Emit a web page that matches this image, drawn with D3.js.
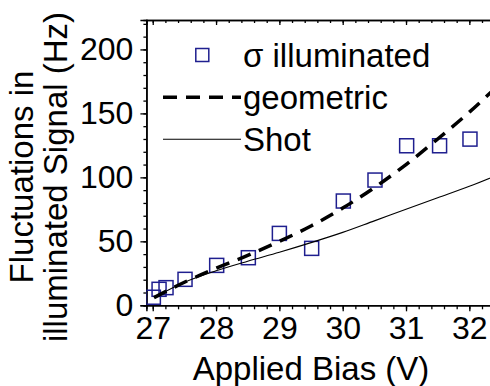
<!DOCTYPE html>
<html>
<head>
<meta charset="utf-8">
<script src="https://cdn.jsdelivr.net/npm/d3@7"></script>
<style>
body { margin: 0; background: #fff; }
text { font-family: "Liberation Sans", Arial, sans-serif; fill: #000; }
</style>
</head>
<body>
<svg id="chart" width="490" height="386"></svg>
<script>
// measured points (sigma of illuminated signal)
var biasPoints = [27.01, 27.1, 27.21, 27.51, 28.01, 28.51, 29.0, 29.51, 30.01, 30.51, 31.01, 31.53, 32.01];
var sigmaIlluminated = [6.3, 12.5, 13.8, 20.3, 31.2, 37.2, 56.2, 44.5, 81.5, 97.9, 124.7, 124.7, 129.9];

// model curves
var curveBias = [27.02, 27.5, 28, 28.5, 29, 29.5, 30, 30.5, 31, 31.5, 32, 32.5];
var geometricFit = [6, 18, 29, 39, 50, 62, 76, 92, 110, 130, 151, 174];
var shotFit = [6, 18, 27, 34.5, 41.5, 49, 57, 66, 75, 84, 93, 103];

var xTicks = [27, 28, 29, 30, 31, 32];
var yTicks = [0, 50, 100, 150, 200];
var legendLabels = ["\u03c3 illuminated", "geometric", "Shot"];

var svg = d3.select('#chart');
var navy = '#1f1f8f';

var x = d3.scaleLinear().domain([26.9, 32.5]).range([146.4, 501]);
var y = d3.scaleLinear().domain([0, 223]).range([305.3, 20]);

var xMinor = d3.range(135, 163).map(function(d) { return d / 5; });
var yMinor = d3.range(0, 230, 10);

//clip for the data area
svg.append('clipPath').attr('id', 'plotClip')
  .append('rect')
  .attr('x', x.range()[0]).attr('y', y.range()[1])
  .attr('width', x.range()[1] - x.range()[0])
  .attr('height', y.range()[0] - y.range()[1]);

// axes: minor ticks first, then the major ones with labels
function styleAxis(g) {
  g.selectAll('.domain').attr('stroke', '#000').attr('stroke-width', 1.5);
  g.selectAll('.tick line').attr('stroke', '#000').attr('stroke-width', 1.3);
  g.selectAll('text').style('font-size', '32px').attr('fill', '#000');
}

svg.append('g')
  .attr('transform', 'translate(0,' + y.range()[0] + ')')
  .call(d3.axisBottom(x).tickValues(xMinor).tickSize(4).tickFormat(''))
  .call(styleAxis);
svg.append('g')
  .attr('transform', 'translate(0,' + y.range()[0] + ')')
  .call(d3.axisBottom(x).tickValues(xTicks).tickSize(6).tickPadding(5).tickFormat(d3.format('d')))
  .call(styleAxis);

svg.append('g')
  .attr('transform', 'translate(0,' + y.range()[1] + ')')
  .call(d3.axisBottom(x).tickValues(xMinor).tickSize(3).tickFormat(''))
  .call(styleAxis);
svg.append('g')
  .attr('transform', 'translate(0,' + y.range()[1] + ')')
  .call(d3.axisBottom(x).tickValues(xTicks).tickSize(5).tickFormat(''))
  .call(styleAxis);

svg.append('g')
  .attr('transform', 'translate(' + x.range()[0] + ',0)')
  .call(d3.axisLeft(y).tickValues(yMinor).tickSize(3).tickFormat(''))
  .call(styleAxis);
svg.append('g')
  .attr('transform', 'translate(' + x.range()[0] + ',0)')
  .call(d3.axisLeft(y).tickValues(yTicks).tickSize(6).tickPadding(7).tickFormat(d3.format('d')))
  .call(styleAxis);

svg.append('g')
  .attr('transform', 'translate(' + x.range()[1] + ',0)')
  .call(d3.axisLeft(y).tickValues(yMinor).tickSize(3).tickFormat(''))
  .call(styleAxis);

// data squares
var plot = svg.append('g').attr('clip-path', 'url(#plotClip)');
var sq = 14;

plot.selectAll('rect.pt')
  .data(biasPoints)
  .enter()
  .append('rect')
  .attr('class', 'pt')
  .attr('x', function(d) { return x(d) - sq / 2; })
  .attr('y', function(d, i) { return y(sigmaIlluminated[i]) - sq / 2; })
  .attr('width', sq).attr('height', sq)
  .attr('fill', 'none')
  .attr('stroke', navy)
  .attr('stroke-width', 1.5);

var line = d3.line()
  .x(function(d) { return x(d[0]); })
  .y(function(d) { return y(d[1]); })
  .curve(d3.curveMonotoneX);

plot.append('path')
  .datum(curveBias.map(function(b, i) { return [b, shotFit[i]]; }))
  .attr('d', line)
  .attr('fill', 'none')
  .attr('stroke', '#000')
  .attr('stroke-width', 1.1);

plot.append('path')
  .datum(curveBias.map(function(b, i) { return [b, geometricFit[i]]; }))
  .attr('d', line)
  .attr('fill', 'none')
  .attr('stroke', '#000')
  .attr('stroke-width', 3.5)
  .attr('stroke-dasharray', '14,9');

// legend
var legend = svg.append('g');
var rowY = [55, 97.3, 139.3];

legend.append('rect')
  .attr('x', 202.3 - 6.5).attr('y', rowY[0] - 6.5)
  .attr('width', 13).attr('height', 13)
  .attr('fill', 'none').attr('stroke', navy).attr('stroke-width', 1.5);

legend.append('line')
  .attr('x1', 163).attr('x2', 241).attr('y1', rowY[1]).attr('y2', rowY[1])
  .attr('stroke', '#000').attr('stroke-width', 3.5).attr('stroke-dasharray', '14,9');

legend.append('line')
  .attr('x1', 163).attr('x2', 241).attr('y1', rowY[2]).attr('y2', rowY[2])
  .attr('stroke', '#000').attr('stroke-width', 1.1);

legend.selectAll('text')
  .data(legendLabels)
  .enter()
  .append('text')
  .attr('x', 243)
  .attr('y', function(d, i) { return rowY[i] + 11.5; })
  .style('font-size', '33px')
  .text(function(d) { return d; });

// axis titles
svg.append('text')
  .attr('x', 311).attr('y', 379.5)
  .attr('text-anchor', 'middle')
  .style('font-size', '33px')
  .text('Applied Bias (V)');

var yTitle = svg.append('text')
  .attr('transform', 'translate(33.3,177) rotate(-90)')
  .attr('text-anchor', 'middle')
  .style('font-size', '33px');
yTitle.append('tspan').attr('x', 0).attr('y', 0).text('Fluctuations in');
yTitle.append('tspan').attr('x', 0).attr('y', 33.4).text('illuminated Signal (Hz)');
</script>
</body>
</html>
